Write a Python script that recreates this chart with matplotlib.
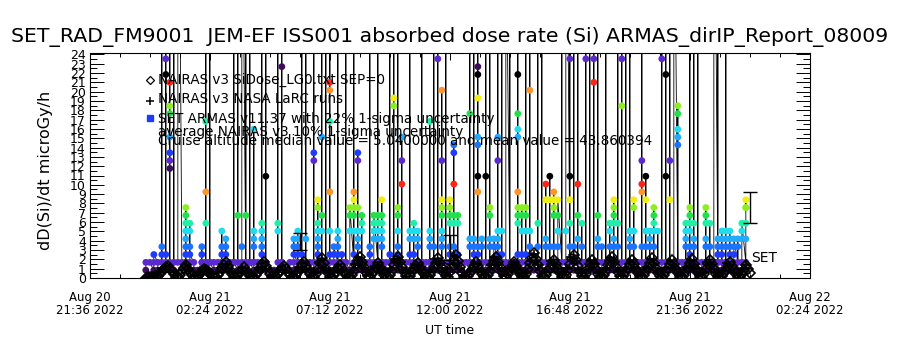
import matplotlib
matplotlib.use("Agg")
import matplotlib.pyplot as plt
import matplotlib.dates as mdates
from matplotlib.ticker import MultipleLocator, FixedLocator
from matplotlib.lines import Line2D
from matplotlib import font_manager as fm
from datetime import datetime, timedelta

# ---------------- texts ----------------
TITLE = "SET_RAD_FM9001  JEM-EF ISS001 absorbed dose rate (Si) ARMAS_dirIP_Report_08009"
YLABEL = "dD(Si)/dt microGy/h"
XLABEL = "UT time"
LEGEND_LINES = [
    "NAIRAS v3 SiDose_LG0.txt SEP=0",
    "NAIRAS v3 NASA LaRC runs",
    "SET ARMAS v11.37 with 22% 1-sigma uncertainty",
    "average NAIRAS v3 10% 1-sigma uncertainty",
    "Cruise altitude median value = 5.0400000 and mean value = 43.860394",
]
SERIES_LABEL = "SET"

# ---------------- axes ranges / ticks ----------------
X_START = datetime(2022, 8, 20, 21, 36)
X_END = datetime(2022, 8, 22, 2, 24)
X_MAJOR_STEP_MIN = 288
X_MINOR_STEP_MIN = 72
Y_MIN, Y_MAX = 0.0, 24.2
Y_TICKS = list(range(0, 25))

# ---------------- SET ARMAS data (counts per sample column) ----------------
SET_T0 = datetime(2022, 8, 20, 23, 50)
SET_CADENCE_MIN = 9.6
SET_GY_PER_COUNT = 0.84
set_counts = [
    [1, 2], [2], [1, 2, 3], [2, 1], [1, 4, 3, 120, 2],
    [1, 3, 28, 26, 140, 2], [2, 14, 15, 16, 18, 21, 22, 25, 90, 1], [1, 60, 2], [2, 80], [2],
    [2, 3, 4, 5, 6, 7, 8, 9, 2], [1, 2, 4, 6, 7, 3], [2, 1], [1], [2, 3, 4, 2],
    [1, 2, 7, 11, 20, 110, 2], [2, 70, 2], [1, 2], [2, 1], [1, 2, 3, 4, 6, 2],
    [2, 3, 4, 5, 1], [1, 2], [2, 50, 2], [1, 8, 100, 2], [2, 4, 1, 60],
    [1, 8, 130, 2], [2, 40, 2], [1, 2, 4, 5, 6, 19, 2], [2, 1], [1, 2, 3, 4, 5, 6, 7, 90, 2],
    [2, 13, 80, 2], [1], [1], [1, 6, 7, 50, 2], [2, 27, 140, 2],
    [1], [2, 1], [1, 2, 4, 5, 3], [2, 3, 4, 5, 6, 1], [1, 2, 3, 70, 2],
    [2, 5, 110, 1], [1, 2], [2, 15, 16, 90, 1], [1, 2, 3, 4, 5, 6, 7, 9, 10, 2], [2, 6, 8, 18, 130, 1],
    [1, 2, 60, 2], [2, 3, 6, 11, 20, 24, 25, 120, 1], [1, 2, 3, 4], [2, 3, 4, 5, 6, 80, 1], [1, 2, 3, 2],
    [2, 100, 2], [1, 6, 8, 9], [2, 3, 6, 8, 9, 10, 11, 120, 1], [1, 2, 4, 5, 6, 9, 15, 16, 2], [2, 6, 7, 8, 1],
    [1, 2], [2, 3, 4, 70, 1], [1, 2, 5, 6, 7, 8], [2, 5, 6, 7, 8, 90, 1], [1, 2, 4, 5, 6, 7, 8, 10, 2],
    [2, 1], [1, 3, 60, 2], [2, 22, 23, 110, 1], [1, 2, 3, 4, 6, 8, 9, 80, 2], [2, 12, 15, 18, 1],
    [1, 2], [2, 3, 5, 6, 50, 1], [1, 2, 3, 5, 6, 7, 2], [2, 4, 5, 6, 1], [1, 2, 70, 2],
    [2, 1], [1, 2, 4, 5, 6, 20, 2], [2, 4, 90, 1], [1, 28, 120, 2], [2, 4, 5, 6, 8, 9, 10, 15, 24, 1],
    [1, 2, 60, 2], [2, 3, 4, 7, 8, 9, 10, 1], [1, 2, 3, 4, 7, 8, 12, 16, 17, 2], [2, 3, 7, 8, 1], [1, 2],
    [2], [1, 2, 4, 5, 21, 80, 2], [2, 3, 4, 5, 100, 1], [1, 2, 3, 4, 11, 13, 17, 18, 23, 26, 27, 150, 2], [2, 4, 5, 1],
    [1, 13, 70, 2], [2, 4, 5, 8, 9, 110, 1], [1, 2, 4, 5], [2, 3, 4, 5, 6, 15, 18, 60, 1], [1, 2, 3, 6, 90, 2],
    [2, 1, 50], [1, 40, 2], [2, 1], [1, 2, 3, 7, 8, 9, 11, 18, 19, 21, 26, 130, 2], [2, 3, 6, 9, 8, 1],
    [1, 2, 3, 6, 8, 9, 70, 2], [2, 4, 6, 24, 100, 1], [1, 2], [2, 4, 7, 60, 1], [1, 80, 2],
    [2, 4, 5, 10, 12, 1], [1, 2, 4, 10, 13, 2], [2, 4, 8, 9, 10, 11, 1], [1, 2, 4, 6, 8, 10], [2, 90, 1],
    [1, 2, 6, 2, 70], [2, 4, 7, 10, 13, 28, 120, 1], [1, 4, 50, 2], [2, 5, 8, 12, 100, 1], [1, 2, 4, 7, 2],
    [2, 28, 60, 2], [1, 80, 2], [2, 28, 25, 110, 1], [1, 2, 4, 5, 8, 90, 2], [2, 4, 1],
    [1, 2, 70, 2], [2, 4, 6, 7, 1], [1, 2, 4, 5, 7, 8, 9, 10, 2], [2, 4, 7, 50, 1], [1, 28, 22, 120, 2],
    [2, 80, 1], [1, 2, 4, 5, 6, 60, 2], [2, 4, 6, 10, 9, 1], [1, 2], [2, 4, 11, 12, 15, 90, 1],
    [1, 2, 4, 6, 10, 13, 2], [2, 4, 5, 6, 1], [1, 2, 4, 6, 7, 8, 9, 2], [2, 6, 1], [1, 28, 70, 2],
    [2, 13, 26, 100, 1], [1, 10, 15, 80, 2], [2, 1, 60], [1, 2, 17, 18, 19, 21, 22, 2], [2, 1],
    [1, 2, 4, 5, 6, 7, 2], [2, 3, 4, 6, 7, 8, 9, 110, 1], [1, 2, 4, 5, 7, 60, 2], [2, 90, 1], [1, 2],
    [2, 4, 5, 7, 8, 9, 1], [1, 2, 4, 7, 2], [2, 1, 70], [1, 2, 3, 4, 5, 60, 2], [2, 3, 4, 5, 6, 1],
    [1, 2, 4, 5, 6, 80, 2], [2, 3, 4, 5, 6, 1], [1, 2, 3, 4, 5], [2, 4, 5, 1], [1, 2, 5, 6, 7],
    [2, 5, 7, 9, 10, 9],
]
# colour of a SET point by its count level (cycles every 13 levels)
level_colors = ["#000000", "#3c0c5e", "#5a2ad0", "#1e3cff", "#1a74ff", "#22aaff", "#20dcec",
                "#22eeaa", "#22e04a", "#8cee22", "#eeee10", "#ff9428", "#ff2418"]

# ---------------- NAIRAS model (4.8 min cadence) ----------------
NAIRAS_T0 = datetime(2022, 8, 20, 23, 50)
NAIRAS_CADENCE_MIN = 4.8
nairas_dose = [
    0.05, 0.06, 0.08, 0.1, 0.12, 0.15,
    0.2, 0.45, 0.75, 1.0, 1.2, 1.3, 1.0, 0.7, 0.4, 0.15,
    0.1, 0.35, 0.7, 1.05, 1.4, 1.0, 0.6, 0.3, 0.1,
    0.06, 0.2, 0.45, 0.75, 1.0, 0.9, 0.7, 0.45, 0.2, 0.07,
    0.1, 0.3, 0.65, 1.05, 1.4, 1.7, 1.3, 0.85, 0.45, 0.15,
    0.08, 0.3, 0.6, 0.9, 1.2, 0.9, 0.55, 0.25, 0.08,
    0.06, 0.3, 0.65, 1.05, 1.45, 1.7, 1.3, 0.85, 0.45, 0.15,
    0.06, 0.2, 0.45, 0.75, 1.05, 1.3, 1.0, 0.65, 0.35, 0.1,
    0.06, 0.3, 0.65, 1.05, 1.45, 1.7, 1.3, 0.85, 0.45, 0.15,
    0.1, 0.45, 0.95, 1.6, 2.2, 1.6, 1.0, 0.5, 0.15,
    0.06, 0.3, 0.65, 1.05, 1.4, 1.05, 0.65, 0.3, 0.08,
    0.06, 0.3, 0.8, 1.35, 1.85, 2.3, 1.75, 1.15, 0.6, 0.2,
    0.08, 0.4, 0.8, 1.2, 1.6, 1.2, 0.75, 0.35, 0.1,
    0.06, 0.3, 0.8, 1.35, 1.85, 2.3, 1.75, 1.15, 0.6, 0.2,
    0.07, 0.25, 0.6, 0.95, 1.3, 1.6, 1.2, 0.8, 0.4, 0.12,
    0.06, 0.3, 0.7, 1.2, 1.65, 2.1, 1.6, 1.05, 0.55, 0.18,
    0.1, 0.6, 1.2, 1.85, 2.5, 1.85, 1.15, 0.55, 0.15,
    0.06, 0.2, 0.5, 0.9, 1.3, 1.7, 1.3, 0.85, 0.45, 0.15,
    0.06, 0.3, 0.8, 1.35, 1.85, 2.3, 1.75, 1.15, 0.6, 0.2,
    0.08, 0.4, 0.85, 1.3, 1.7, 1.3, 0.85, 0.4, 0.1,
    0.06, 0.4, 1.0, 1.6, 2.2, 2.7, 2.05, 1.35, 0.7, 0.2,
    0.06, 0.3, 0.7, 1.1, 1.5, 1.9, 1.45, 0.95, 0.5, 0.15,
    0.06, 0.35, 0.9, 1.45, 2.0, 2.5, 1.9, 1.25, 0.65, 0.2,
    0.08, 0.45, 0.95, 1.45, 1.9, 1.45, 0.95, 0.45, 0.12,
    0.06, 0.3, 0.8, 1.35, 1.85, 2.3, 1.75, 1.15, 0.6, 0.2,
    0.06, 0.3, 0.7, 1.1, 1.5, 1.9, 1.45, 0.95, 0.5, 0.15,
    0.06, 0.3, 0.7, 1.2, 1.65, 2.1, 1.6, 1.05, 0.55, 0.18,
    0.06, 0.3, 0.7, 1.1, 1.5, 1.9, 1.45, 0.95, 0.5, 0.15,
    0.06, 0.3, 0.7, 1.15, 1.6, 2.0, 1.5, 1.0, 0.5, 0.15,
    0.08, 0.45, 0.95, 1.45, 1.9, 1.45, 0.95, 0.45, 0.12,
    0.06, 0.2, 0.5, 0.9, 1.3, 1.7, 1.3, 0.85, 0.45, 0.15,
    0.08, 0.45, 0.9, 1.4, 1.0, 0.5,
]

# ---------------- NAIRAS NASA LaRC runs (9.6 min cadence) ----------------
LARC_T0 = datetime(2022, 8, 20, 23, 50)
LARC_CADENCE_MIN = 9.6
larc_dose = [
    0.06, 0.1, 0.3, 0.7, 1.0, 1.25, 0.8, 0.3, 0.3, 0.9, 1.35, 0.8, 0.25,
    0.3, 0.8, 0.9, 0.5, 0.15, 0.6, 1.5, 1.4, 0.6, 0.15, 0.5, 1.15, 0.8, 0.25,
    0.35, 1.1, 1.65, 0.9, 0.25, 0.3, 0.9, 1.25, 0.7, 0.2, 0.4, 1.2, 1.65, 0.9, 0.25,
    0.6, 1.7, 2.0, 0.9, 0.25, 0.8, 1.35, 0.9, 0.3, 0.5, 1.5, 2.25, 1.3, 0.35,
    0.4, 1.3, 1.4, 0.5, 0.3, 1.0, 2.0, 2.0, 0.9, 0.25, 0.6, 1.5, 1.3, 0.5,
    0.2, 0.9, 2.0, 1.8, 0.7, 0.3, 1.5, 2.45, 1.3, 0.3, 0.2, 0.7, 1.6, 1.5, 0.6,
    0.3, 1.4, 2.25, 1.4, 0.4, 0.3, 1.1, 1.65, 0.9, 0.25, 0.5, 1.8, 2.6, 1.4, 0.35,
    0.8, 1.8, 1.6, 0.6, 0.3, 1.1, 2.3, 2.2, 0.9, 0.25, 0.9, 1.85, 1.6, 0.5,
    0.3, 1.1, 2.2, 1.9, 0.7, 0.2, 1.0, 1.85, 1.2, 0.3, 0.35, 1.2, 2.05, 1.4, 0.4,
    0.3, 1.1, 1.85, 1.3, 0.35, 0.35, 1.2, 1.95, 1.3, 0.35, 0.6, 1.7, 1.6, 0.6,
    0.25, 0.8, 1.6, 1.4, 0.5, 0.4, 1.0, 1.35,
]

# ---------------- error bars ----------------
err_time = [datetime(2022, 8, 21, 6, 0), datetime(2022, 8, 21, 12, 0), datetime(2022, 8, 22, 0, 0)]
err_value = [3.9, 3.27, 7.56]
err_sigma = [0.9, 1.34, 1.66]

# ---------------- fonts ----------------
_names = {f.name for f in fm.fontManager.ttflist}
if "Liberation Sans Narrow" in _names:
    NARROW_FAMILY, XT_SIZE = "Liberation Sans Narrow", 10.5
else:
    NARROW_FAMILY, XT_SIZE = "DejaVu Sans", 8.5
plt.rcParams["font.family"] = ["DejaVu Sans"]

W, H = 900, 350
fig = plt.figure(figsize=(W / 100, H / 100), dpi=100)
fig.patch.set_facecolor("white")
L, R, B, T = 90, 810, 278, 52.5
ax = fig.add_axes([L / W, 1 - B / H, (R - L) / W, (B - T) / H])
ax.set_facecolor("white")

def dn(d):
    return mdates.date2num(d)

# SET series expansion
set_t, set_v, set_c = [], [], []
for i, col in enumerate(set_counts):
    t = dn(SET_T0 + timedelta(minutes=SET_CADENCE_MIN * i))
    for c in col:
        set_t.append(t)
        set_v.append(c * SET_GY_PER_COUNT)
        set_c.append(level_colors[c % 13])

ax.plot(set_t, set_v, color="black", lw=0.6, zorder=2)
vis = [k for k, v in enumerate(set_v) if v <= Y_MAX + 1]
ax.scatter([set_t[k] for k in vis], [set_v[k] for k in vis], c=[set_c[k] for k in vis],
           s=24, marker="o", linewidths=0, zorder=3)

ax.errorbar([dn(d) for d in err_time], err_value, yerr=err_sigma, fmt="none",
            ecolor="black", elinewidth=1.0, capsize=5, capthick=1.0, zorder=4)

nt = [dn(NAIRAS_T0 + timedelta(minutes=NAIRAS_CADENCE_MIN * i)) for i in range(len(nairas_dose))]
ax.plot(nt, nairas_dose, color="black", lw=1.0, marker="D", ms=4.6, mfc="none", mec="black",
        mew=1.2, zorder=5)
lt = [dn(LARC_T0 + timedelta(minutes=LARC_CADENCE_MIN * i)) for i in range(len(larc_dose))]
ax.plot(lt, larc_dose, ls="none", marker="+", ms=6, mec="black", mew=1.2, zorder=5)

# axes
ax.set_xlim(dn(X_START), dn(X_END))
ax.set_ylim(Y_MIN, Y_MAX)
nmaj = int(round((X_END - X_START).total_seconds() / 60 / X_MAJOR_STEP_MIN))
ax.xaxis.set_major_locator(FixedLocator([dn(X_START + timedelta(minutes=X_MAJOR_STEP_MIN * k)) for k in range(nmaj + 1)]))
ax.xaxis.set_minor_locator(FixedLocator([dn(X_START + timedelta(minutes=X_MINOR_STEP_MIN * k))
                                         for k in range(nmaj * X_MAJOR_STEP_MIN // X_MINOR_STEP_MIN + 1)]))
ax.xaxis.set_major_formatter(mdates.DateFormatter("%b %d\n%H:%M %Y"))
ax.set_yticks(Y_TICKS)
ax.yaxis.set_minor_locator(MultipleLocator(0.5))
for s in ax.spines.values():
    s.set_linewidth(0.8)
ax.tick_params(axis="both", which="both", direction="in", top=True, right=True, width=0.7, colors="black")
ax.tick_params(axis="y", which="major", length=10, pad=3, labelsize=9)
ax.tick_params(axis="y", which="minor", length=5)
ax.tick_params(axis="x", which="major", length=5, pad=9, labelsize=XT_SIZE, labelfontfamily=NARROW_FAMILY)
ax.tick_params(axis="x", which="minor", length=3)

# texts
title = fig.text(450 / W, 1 - 37 / H, TITLE, ha="center", va="center", fontsize=13.5)
ylab = fig.text(46 / W, 1 - 170 / H, YLABEL, ha="center", va="center", rotation=90, fontsize=10.5)
xlab = fig.text(450 / W, 1 - 330 / H, XLABEL, ha="center", va="center", fontsize=XT_SIZE + 0.5,
                family=NARROW_FAMILY)
leg_y = [80, 99, 119, 132, 141]
leg_txt = []
for s, y in zip(LEGEND_LINES, leg_y):
    leg_txt.append(fig.text(158 / W, 1 - y / H, s, ha="left", va="center", fontsize=9, zorder=10))
fig.text(751 / W, 1 - 258 / H, SERIES_LABEL, ha="left", va="center", fontsize=10, zorder=10)

fig.add_artist(Line2D([150 / W], [1 - 80 / H], marker="D", ms=3.6, mfc="none", mec="black", mew=0.9,
                      ls="none", transform=fig.transFigure))
fig.add_artist(Line2D([150 / W], [1 - 101 / H], marker="+", ms=6, mec="black", mew=1.1,
                      ls="none", transform=fig.transFigure))
fig.add_artist(Line2D([150 / W], [1 - 118 / H], marker="s", ms=4, mfc="#1a3cff", mec="#1a3cff",
                      ls="none", transform=fig.transFigure))

# fit text widths to the reference
fig.canvas.draw()
r = fig.canvas.get_renderer()
def fit(txt, target, use_height=False):
    bb = txt.get_window_extent(r)
    cur = bb.height if use_height else bb.width
    txt.set_fontsize(txt.get_fontsize() * target / cur)
fit(title, 878)
fit(ylab, 160, use_height=True)
fit(leg_txt[4], 497)
for t in leg_txt[:4]:
    t.set_fontsize(leg_txt[4].get_fontsize())
for lbl in ax.get_xticklabels():
    lbl.set_linespacing(1.05)

fig.savefig("out.png", dpi=100, facecolor="white")
